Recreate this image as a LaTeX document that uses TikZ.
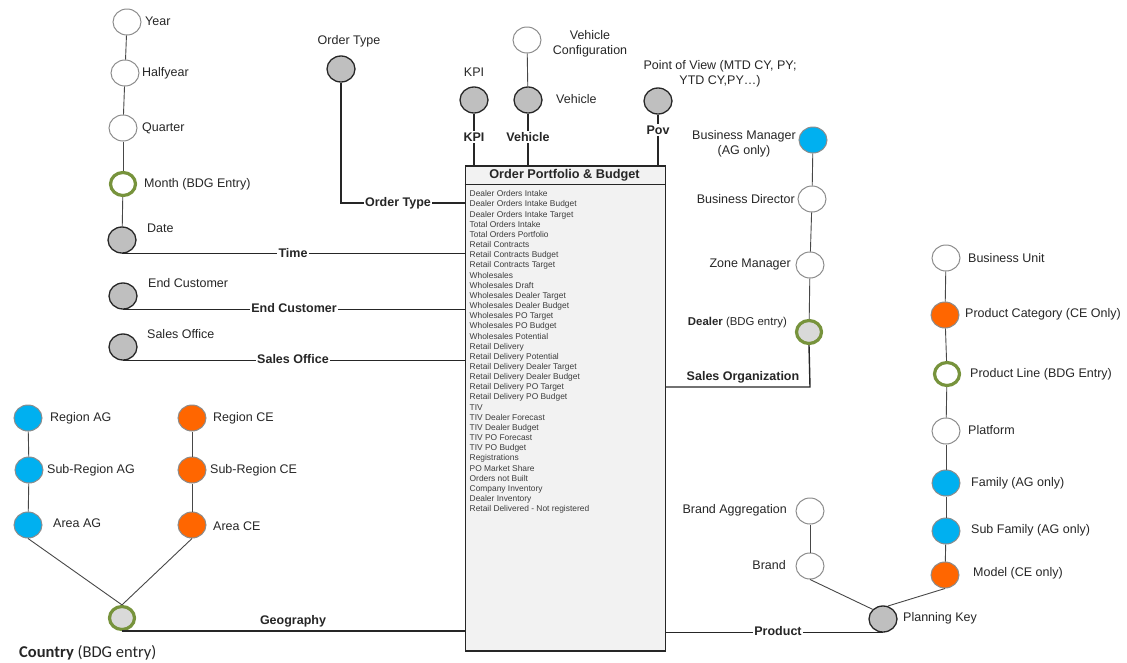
\documentclass[tikz,border=0pt]{standalone}
\usepackage{fontspec}
\setmainfont{Liberation Sans}
\newfontfamily\calib{Carlito}
\usetikzlibrary{shapes.geometric}
\definecolor{txt}{HTML}{262626}
\definecolor{gfill}{HTML}{BFBFBF}
\definecolor{lgfill}{HTML}{D9D9D9}
\definecolor{bluec}{HTML}{00B0F0}
\definecolor{orangec}{HTML}{FF6600}
\definecolor{greenc}{HTML}{77933C}
\definecolor{boxfill}{HTML}{F2F2F2}
\definecolor{rimc}{HTML}{8C8C8C}
\tikzset{
  dimbase/.style={ellipse, minimum width=28, minimum height=26, inner sep=0},
  dimw/.style={dimbase, fill=white, draw=rimc, line width=1},
  dimg/.style={dimbase, fill=gfill, draw=txt, line width=1.3},
  dimb/.style={dimbase, fill=bluec, draw=rimc, line width=1},
  dimo/.style={dimbase, fill=orangec, draw=rimc, line width=1},
  dimgr/.style={dimbase, minimum width=25, minimum height=23, fill=white, draw=greenc, line width=3.2},
  dimgrg/.style={dimgr, fill=lgfill},
  lbl/.style={font=\fontsize{12.5}{15}\selectfont, text=txt, inner sep=0},
  blbl/.style={font=\bfseries\fontsize{12.5}{15}\selectfont, text=txt, fill=white, inner sep=1.5},
  conn/.style={line width=1.4, draw=txt},
  hier/.style={line width=0.9, draw=txt!85},
}
\begin{document}
\begin{tikzpicture}[x=1pt,y=-1pt]
\useasboundingbox (0,0) rectangle (1127,662);

% central box
\node[draw=txt, fill=boxfill, line width=1.5, minimum width=200, minimum height=485, inner sep=0, anchor=north west] (box) at (464.5,165) {};
\draw[line width=1.5, draw=txt] ([yshift=-19.5]box.north west) -- ([yshift=-19.5]box.north east);
\node[font=\bfseries\fontsize{12.7}{15}\selectfont, text=txt] (boxtitle) at (564.5,175) {Order Portfolio \& Budget};
\node[anchor=north west, align=left, inner sep=0, text=txt!90, font=\fontsize{8.4}{10.16}\selectfont] (boxlist) at (469.5,190.5) {%
Dealer Orders Intake\\Dealer Orders Intake Budget\\Dealer Orders Intake Target\\Total Orders Intake\\Total Orders Portfolio\\Retail Contracts\\Retail Contracts Budget\\Retail Contracts Target\\Wholesales\\Wholesales Draft\\Wholesales Dealer Target\\Wholesales Dealer Budget\\Wholesales PO Target\\Wholesales PO Budget\\Wholesales Potential\\Retail Delivery\\Retail Delivery Potential\\Retail Delivery Dealer Target\\Retail Delivery Dealer Budget\\Retail Delivery PO Target\\Retail Delivery PO Budget\\TIV\\TIV Dealer Forecast\\TIV Dealer Budget\\TIV PO Forecast\\TIV PO Budget\\Registrations\\PO Market Share\\Orders not Built\\Company Inventory\\Dealer Inventory\\Retail Delivered - Not registered};

% time hierarchy
\node[dimw] (year) at (127,22) {};
\node[dimw] (half) at (125,73) {};
\node[dimw] (quarter) at (123,128) {};
\node[dimgr] (month) at (123,184) {};
\node[dimg] (date) at (122,240) {};
\draw[hier] (year) -- (half);
\draw[hier] (half) -- (quarter);
\draw[hier] (quarter) -- (month);
\draw[hier] (month) -- (date);
\node[lbl, anchor=west] (tyear) at (145,21) {Year};
\node[lbl, anchor=west] (thalf) at (142,73) {Halfyear};
\node[lbl, anchor=west] (tquarter) at (142,128) {Quarter};
\node[lbl, anchor=west] (tmonth) at (144,184) {Month (BDG Entry)};
\node[lbl, anchor=west] (tdate) at (147,228) {Date};
\draw[conn] (date.south) -- (date.south -| box.west);
\node[blbl] (ltime) at (293,253) {Time};

% end customer, sales office
\node[dimg] (ec) at (123,296) {};
\node[lbl, anchor=west] (tec) at (148,283) {End Customer};
\draw[conn] (ec.south) -- (ec.south -| box.west);
\node[blbl] (lec) at (294,308) {End Customer};
\node[dimg] (so) at (123,347) {};
\node[lbl, anchor=west] (tso) at (147,334) {Sales Office};
\draw[conn] (so.south) -- (so.south -| box.west);
\node[blbl] (lso) at (293,359) {Sales Office};

% order type
\node[dimg] (ot) at (341,69) {};
\node[lbl] (tot) at (349,41) {Order Type};
\coordinate (otc) at (341,203);
\draw[conn] (ot.south) -- (otc) -- (otc -| box.west);
\node[blbl] (lot) at (398,203) {Order Type};

% top: KPI, vehicle, pov
\node[dimg] (kpi) at (474,100) {};
\node[lbl] (tkpi) at (474,72) {KPI};
\draw[conn] (kpi.south) -- (kpi.south |- box.north);
\node[blbl] (lkpi) at (474,137) {KPI};
\node[dimw] (vc) at (527,40) {};
\node[dimg] (veh) at (528,100) {};
\draw[hier] (vc) -- (veh);
\node[lbl, align=center] (tvc) at (590,44) {Vehicle\\Configuration};
\node[lbl, anchor=west] (tveh) at (556,99) {Vehicle};
\draw[conn] (veh.south) -- (veh.south |- box.north);
\node[blbl] (lveh) at (528,137) {Vehicle};
\node[dimg] (pov) at (658,101) {};
\node[lbl, align=center] (tpov) at (720,74) {Point of View (MTD CY, PY;\\YTD CY,PY\ldots)};
\draw[conn] (pov.south) -- (pov.south |- box.north);
\node[blbl] (lpov) at (658,130) {Pov};

% sales organization
\node[dimb] (bm) at (813,140) {};
\node[dimw] (bd) at (812,199) {};
\node[dimw] (zm) at (810,265) {};
\node[dimgrg] (dealer) at (809,332) {};
\draw[hier] (bm) -- (bd);
\draw[hier] (bd) -- (zm);
\draw[hier] (zm) -- (dealer);
\node[lbl, align=center] (tbm) at (744,144) {Business Manager\\(AG only)};
\node[lbl, anchor=east] (tbd) at (795,199) {Business Director};
\node[lbl, anchor=east] (tzm) at (791,264) {Zone Manager};
\node[lbl, anchor=east, font=\fontsize{11.4}{14}\selectfont] (tdealer) at (787,323) {\textbf{Dealer} (BDG entry)};
\coordinate (sorgc) at (810,387);
\draw[conn] (dealer.south) -- (sorgc) -- (sorgc -| box.east);
\node[lbl, font=\bfseries\fontsize{12.5}{15}\selectfont] (lsorg) at (743,377) {Sales Organization};

% product
\node[dimw] (bu) at (946,258) {};
\node[dimo] (pc) at (945,315) {};
\node[dimgr] (pl) at (947,374) {};
\node[dimw] (pf) at (946,431) {};
\node[dimb] (fam) at (946,483) {};
\node[dimb] (sf) at (946,531) {};
\node[dimo] (model) at (945,575) {};
\node[dimg] (pk) at (883,619) {};
\node[dimw] (ba) at (810,511) {};
\node[dimw] (brand) at (810,566) {};
\draw[hier] (bu) -- (pc);
\draw[hier] (pc) -- (pl);
\draw[hier] (pl) -- (pf);
\draw[hier] (pf) -- (fam);
\draw[hier] (fam) -- (sf);
\draw[hier] (sf) -- (model);
\draw[hier] (ba) -- (brand);
\draw[hier] (brand.south) -- (pk.north west);
\draw[hier] (model.south) -- (pk.70);
\node[lbl, anchor=west] (tbu) at (968,258) {Business Unit};
\node[lbl, anchor=west] (tpc) at (965,314) {Product Category (CE Only)};
\node[lbl, anchor=west] (tpl) at (970,374) {Product Line (BDG Entry)};
\node[lbl, anchor=west] (tpf) at (968,430) {Platform};
\node[lbl, anchor=west] (tfam) at (971,483) {Family (AG only)};
\node[lbl, anchor=west] (tsf) at (971,530) {Sub Family (AG only)};
\node[lbl, anchor=west] (tmodel) at (973,573) {Model (CE only)};
\node[lbl, anchor=west] (tpk) at (903,618) {Planning Key};
\node[lbl, anchor=east] (tba) at (787,510) {Brand Aggregation};
\node[lbl, anchor=east] (tbrand) at (786,565) {Brand};
\draw[conn] (pk.south) -- (pk.south -| box.east);
\node[blbl] (lprod) at (778,631) {Product};

% geography
\node[dimb] (rag) at (28,418) {};
\node[dimb] (srag) at (29,470) {};
\node[dimb] (aag) at (28,525) {};
\node[dimo] (rce) at (192,418) {};
\node[dimo] (srce) at (192,470) {};
\node[dimo] (ace) at (192,525) {};
\node[dimgrg] (country) at (122,618) {};
\draw[hier] (rag) -- (srag);
\draw[hier] (srag) -- (aag);
\draw[hier] (rce) -- (srce);
\draw[hier] (srce) -- (ace);
\draw[hier] (aag.south) -- (country.north);
\draw[hier] (ace.south) -- (country.north);
\node[lbl, anchor=west] (trag) at (50,418) {Region AG};
\node[lbl, anchor=west] (tsrag) at (47,470) {Sub-Region AG};
\node[lbl, anchor=west] (taag) at (53,523) {Area AG};
\node[lbl, anchor=west] (trce) at (213,418) {Region CE};
\node[lbl, anchor=west] (tsrce) at (210,470) {Sub-Region CE};
\node[lbl, anchor=west] (tace) at (213,526) {Area CE};
\draw[conn] (country.south) -- (country.south -| box.west);
\node[lbl, font=\bfseries\fontsize{12.5}{15}\selectfont] (lgeo) at (293,621) {Geography};
\node[lbl, anchor=west, font=\calib\fontsize{16.5}{20}\selectfont] (tcountry) at (19,653) {\textbf{Country} (BDG entry)};
\end{tikzpicture}
\end{document}
